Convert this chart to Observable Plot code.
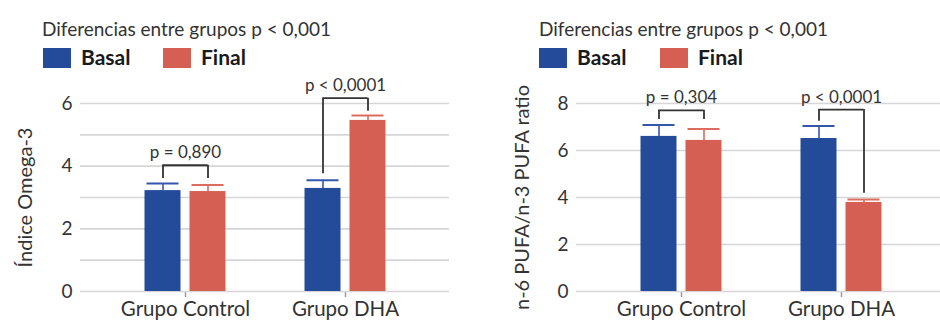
<!DOCTYPE html>
<html>
<head>
<meta charset="utf-8">
<script src="https://cdn.jsdelivr.net/npm/d3@7"></script>
<script src="https://cdn.jsdelivr.net/npm/@observablehq/plot@0.6"></script>
<style>
  html, body { margin: 0; padding: 0; background: #fff; }
  body { width: 940px; height: 322px; overflow: hidden; position: relative; font-family: Lato, "Open Sans", sans-serif; }
  .panel { position: absolute; top: 0; width: 470px; height: 322px; overflow: hidden; }
  .title { position: absolute; top: 19px; font-size: 19px; line-height: 19px; color: #333; white-space: nowrap; }
  .swatch { position: absolute; top: 48px; width: 28px; height: 20px; }
  .lab { position: absolute; top: 46px; font-size: 21px; line-height: 21px; font-weight: 700; color: #1a1a1a; white-space: nowrap; }
  .chart { position: absolute; top: 75px; left: 0; max-width: none !important; }
  g[aria-label="x-axis"] line, g[aria-label="x-axis tick"] path { stroke: #9a9a9a; stroke-width: 1.5; }
</style>
</head>
<body>
<div id="left" class="panel" style="left:0"></div>
<div id="right" class="panel" style="left:470px"></div>
<script>
// ---------- data ----------
const groups = ["Grupo Control", "Grupo DHA"];
const seriesNames = ["Basal", "Final"];
const seriesColors = ["#244a9a", "#d55f52"];
const errColors = ["#3557ab", "#dd6b5f"];
const titleText = "Diferencias entre grupos p < 0,001";

// Left chart: Índice Omega-3
const omegaLabel = "Índice Omega-3";
const omegaBasal = [3.22, 3.29];
const omegaBasalSD = [0.23, 0.26];
const omegaFinal = [3.19, 5.46];
const omegaFinalSD = [0.21, 0.16];
const omegaP = ["p = 0,890", "p < 0,0001"];
const omegaBracket = [4.03, 6.17];
const omegaLegBasal = [3.61, 3.76];
const omegaLegFinal = [3.61, 5.75];
const omegaTicks = [0, 2, 4, 6];
const omegaGrid = [0, 1, 2, 3, 4, 5, 6];

// Right chart: n-6/n-3 ratio
const ratioLabel = "n-6 PUFA/n-3 PUFA ratio";
const ratioBasal = [6.60, 6.51];
const ratioBasalSD = [0.49, 0.53];
const ratioFinal = [6.43, 3.79];
const ratioFinalSD = [0.48, 0.12];
const ratioP = ["p = 0,304", "p < 0,0001"];
const ratioBracket = [7.71, 7.74];
const ratioLegBasal = [7.32, 7.25];
const ratioLegFinal = [7.32, 4.18];
const ratioTicks = [0, 2, 4, 6, 8];
const ratioGrid = [0, 2, 4, 6, 8];

// ---------- header (title + legend) ----------
function header(panel, left, legendPos) {
  const t = document.createElement("div");
  t.className = "title"; t.style.left = left + "px"; t.textContent = titleText;
  panel.appendChild(t);
  seriesNames.forEach((s, i) => {
    const sw = document.createElement("div");
    sw.className = "swatch"; sw.style.left = legendPos[i][0] + "px"; sw.style.background = seriesColors[i];
    panel.appendChild(sw);
    const lb = document.createElement("div");
    lb.className = "lab"; lb.style.left = legendPos[i][1] + "px"; lb.textContent = s;
    panel.appendChild(lb);
  });
}

// ---------- chart ----------
function chart({basal, basalSD, final, finalSD, pText, bracket, legB, legF, ticks, grid, domain, ylabel, marginLeft, width, labelDx}) {
  const rows = groups.map((g, i) => ({
    group: g, basal: basal[i], basalTop: basal[i] + basalSD[i],
    final: final[i], finalTop: final[i] + finalSD[i],
    p: pText[i], bracket: bracket[i], legB: legB[i], legF: legF[i]
  }));
  const off = 22.5;
  return Plot.plot({
    width, height: 260,
    marginLeft, marginRight: width - marginLeft - 369, marginTop: 28, marginBottom: 44,
    style: { fontFamily: "Lato, 'Open Sans', sans-serif", fontSize: "19px", color: "#333", background: "transparent", overflow: "visible", maxWidth: "none" },
    x: { domain: groups, paddingInner: 0, paddingOuter: 0.153, label: null, tickSize: 6, tickPadding: 4 },
    y: { domain, ticks, tickFormat: d3.format("d"), tickSize: 0, tickPadding: 8, label: null },
    marks: [
      Plot.ruleY(grid, { stroke: "#d6d6d6", strokeWidth: 1.6 }),
      // bars
      Plot.barY(rows, { x: "group", y: "basal", fill: seriesColors[0], insetLeft: 39.5, insetRight: 84.5 }),
      Plot.barY(rows, { x: "group", y: "final", fill: seriesColors[1], insetLeft: 84.5, insetRight: 39.5 }),
      // error bars
      Plot.ruleX(rows, { x: "group", y1: "basal", y2: "basalTop", dx: -off, stroke: errColors[0], strokeWidth: 1.6 }),
      Plot.ruleX(rows, { x: "group", y1: "final", y2: "finalTop", dx: off, stroke: errColors[1], strokeWidth: 1.6 }),
      Plot.tickY(rows, { x: "group", y: "basalTop", stroke: errColors[0], strokeWidth: 2, insetLeft: 41.5, insetRight: 86.5 }),
      Plot.tickY(rows, { x: "group", y: "finalTop", stroke: errColors[1], strokeWidth: 2, insetLeft: 86.5, insetRight: 41.5 }),
      // brackets
      Plot.tickY(rows, { x: "group", y: "bracket", stroke: "#333", strokeWidth: 1.8, insetLeft: 57.5, insetRight: 57.5 }),
      Plot.ruleX(rows, { x: "group", y1: "legB", y2: "bracket", dx: -off, stroke: "#333", strokeWidth: 1.8 }),
      Plot.ruleX(rows, { x: "group", y1: "legF", y2: "bracket", dx: off, stroke: "#333", strokeWidth: 1.8 }),
      Plot.text(rows, { x: "group", y: "bracket", text: "p", dy: -7, lineAnchor: "bottom", fontSize: 17, fill: "#333" }),
      // y label
      Plot.text([ylabel], { frameAnchor: "left", textAnchor: "middle", rotate: -90, dx: labelDx, lineAnchor: "bottom", fontSize: 20, fill: "#333" })
    ]
  });
}

const L = document.getElementById("left");
const R = document.getElementById("right");
header(L, 42, [[43, 81], [163, 201]]);
header(R, 69, [[69, 107], [190, 228]]);

const c1 = chart({ basal: omegaBasal, basalSD: omegaBasalSD, final: omegaFinal, finalSD: omegaFinalSD,
  pText: omegaP, bracket: omegaBracket, legB: omegaLegBasal, legF: omegaLegFinal,
  ticks: omegaTicks, grid: omegaGrid, domain: [0, 6], ylabel: omegaLabel, marginLeft: 80, width: 470, labelDx: -49 });
const c2 = chart({ basal: ratioBasal, basalSD: ratioBasalSD, final: ratioFinal, finalSD: ratioFinalSD,
  pText: ratioP, bracket: ratioBracket, legB: ratioLegBasal, legF: ratioLegFinal,
  ticks: ratioTicks, grid: ratioGrid, domain: [0, 8], ylabel: ratioLabel, marginLeft: 106, width: 496, labelDx: -48 });
c1.classList.add("chart"); c2.classList.add("chart");
L.appendChild(c1); R.appendChild(c2);
document.querySelectorAll('svg g[aria-label="x-axis tick label"] text, svg g[aria-label="x-axis"] text').forEach(t => t.style.fontSize = "20.5px");
</script>
</body>
</html>
